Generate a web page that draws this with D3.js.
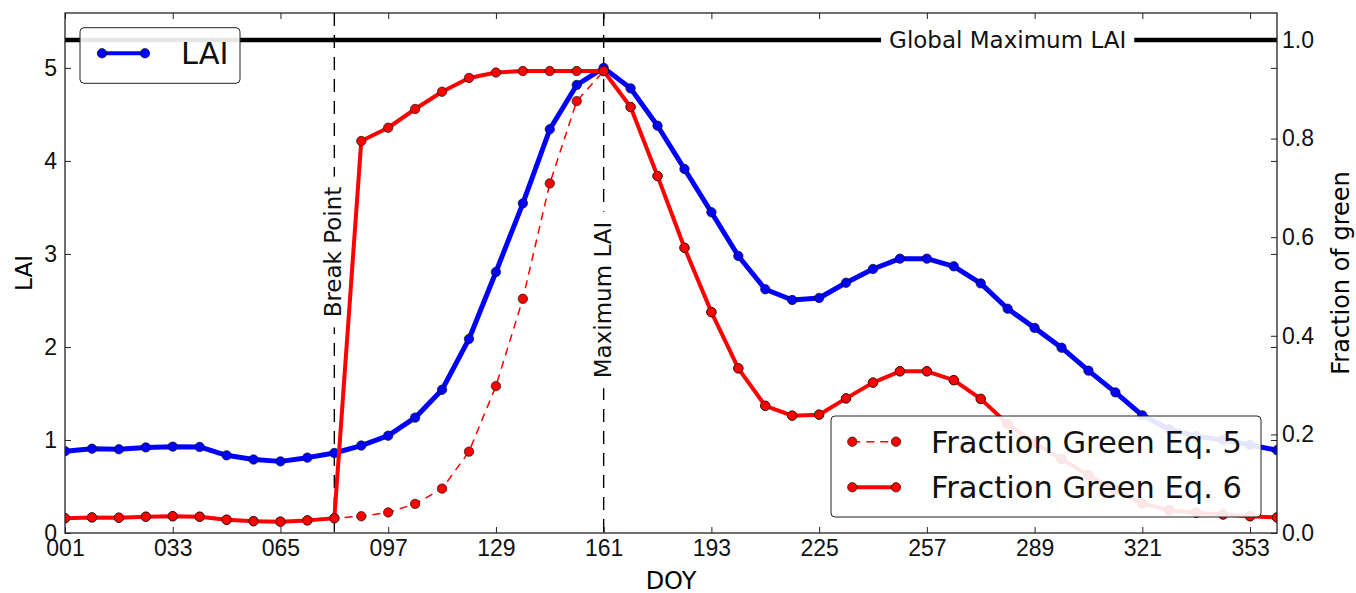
<!DOCTYPE html>
<html>
<head>
<meta charset="utf-8">
<script src="https://cdn.jsdelivr.net/npm/d3@7"></script>
<style>
  body { margin: 0; background: #fff; }
  svg { font-family: "DejaVu Sans", sans-serif; }
</style>
</head>
<body>
<div id="chart"></div>
<script>
// ============================================================================
// DATA (8-day composites)
// ============================================================================
const doy = [1, 9, 17, 25, 33, 41, 49, 57, 65, 73, 81, 89, 97, 105, 113, 121,
  129, 137, 145, 153, 161, 169, 177, 185, 193, 201, 209, 217, 225, 233, 241,
  249, 257, 265, 273, 281, 289, 297, 305, 313, 321, 329, 337, 345, 353, 361];

const lai = [0.88, 0.906, 0.90, 0.92, 0.928, 0.925, 0.835, 0.79, 0.77, 0.81,
  0.86, 0.94, 1.046, 1.24, 1.54, 2.086, 2.806, 3.544, 4.34, 4.816, 5.0, 4.78,
  4.378, 3.913, 3.448, 2.978, 2.62, 2.505, 2.526, 2.69, 2.838, 2.949, 2.949,
  2.867, 2.684, 2.411, 2.205, 1.992, 1.745, 1.512, 1.265, 1.115, 1.04, 1.0,
  0.946, 0.89];

const fracEq5 = [0.030, 0.0316, 0.031, 0.033, 0.034, 0.033, 0.027, 0.024,
  0.023, 0.0256, 0.030, 0.034, 0.0417, 0.059, 0.090, 0.165, 0.298, 0.475,
  0.709, 0.876, 0.937, 0.864, 0.724, 0.5785, 0.448, 0.334, 0.258, 0.238, 0.240,
  0.273, 0.305, 0.328, 0.328, 0.310, 0.272, 0.221, 0.183, 0.150, 0.117, 0.087,
  0.060, 0.046, 0.041, 0.0376, 0.034, 0.0316];

const fracEq6 = [0.030, 0.0316, 0.031, 0.033, 0.034, 0.033, 0.027, 0.024,
  0.023, 0.0256, 0.030, 0.795, 0.822, 0.860, 0.895, 0.923, 0.934, 0.937,
  0.937, 0.937, 0.937, 0.864, 0.724, 0.5785, 0.448, 0.334, 0.258, 0.238, 0.240,
  0.273, 0.305, 0.328, 0.328, 0.310, 0.272, 0.221, 0.183, 0.150, 0.117, 0.087,
  0.060, 0.046, 0.041, 0.0376, 0.034, 0.0316];

const xTicks = [1, 33, 65, 97, 129, 161, 193, 225, 257, 289, 321, 353];
const laiTicks = [0, 1, 2, 3, 4, 5];
const fracTicks = [0, 0.2, 0.4, 0.6, 0.8, 1.0];

const breakPointDoy = 81;
const maxLaiDoy = 161;
const globalMaxLai = 5.3;
const laiTop = 5.59;

// ============================================================================
// DIMENSIONS / SVG
// ============================================================================
const W = 1356, H = 593;
const margin = { top: 13, right: 79, bottom: 60, left: 65 };
const width = W - margin.left - margin.right;
const height = H - margin.top - margin.bottom;

const svg = d3.select('#chart').append('svg')
  .attr('width', W)
  .attr('height', H);

const g = svg.append('g')
  .attr('transform', `translate(${margin.left},${margin.top})`);

g.append('clipPath').attr('id', 'plot-clip')
  .append('rect').attr('width', width).attr('height', height);

// ============================================================================
// SCALES
// ============================================================================
const x = d3.scaleLinear().domain([1, 361]).range([0, width]);
const yL = d3.scaleLinear().domain([0, laiTop]).range([height, 0]);
// right axis: fraction, 1.0 sits on the global maximum LAI
const yR = d3.scaleLinear().domain([0, laiTop / globalMaxLai]).range([height, 0]);

const tickFont = '23px';

// ============================================================================
// AXES (ticks point inward, like the classic matplotlib style)
// ============================================================================
const styleAxis = sel => {
  sel.select('.domain').remove();
  sel.selectAll('line').attr('stroke', '#222').attr('stroke-width', 1);
  sel.selectAll('text').attr('fill', '#111').style('font-size', tickFont);
};

g.append('g')
  .attr('transform', `translate(0,${height})`)
  .call(d3.axisBottom(x).tickValues(xTicks).tickFormat(d3.format('03d'))
    .tickSizeInner(-6).tickSizeOuter(0).tickPadding(7))
  .call(styleAxis);

g.append('g')
  .call(d3.axisTop(x).tickValues(xTicks).tickFormat('')
    .tickSizeInner(-6).tickSizeOuter(0))
  .call(styleAxis);

g.append('g')
  .call(d3.axisLeft(yL).tickValues(laiTicks).tickFormat(d3.format('d'))
    .tickSizeInner(-6).tickSizeOuter(0).tickPadding(8))
  .call(styleAxis);

g.append('g')
  .attr('transform', `translate(${width},0)`)
  .call(d3.axisRight(yL).tickValues(laiTicks).tickFormat('')
    .tickSizeInner(-6).tickSizeOuter(0))
  .call(styleAxis);

g.append('g')
  .attr('transform', `translate(${width},0)`)
  .call(d3.axisRight(yR).tickValues(fracTicks).tickFormat(d3.format('.1f'))
    .tickSizeInner(-6).tickSizeOuter(0).tickPadding(5))
  .call(styleAxis);

// axis labels
g.append('text')
  .attr('x', width / 2).attr('y', height + 56)
  .attr('text-anchor', 'middle').style('font-size', '24px')
  .text('DOY');

g.append('text')
  .attr('transform', `translate(${24 - margin.left},${height / 2}) rotate(-90)`)
  .attr('text-anchor', 'middle').attr('dy', '0.36em').style('font-size', '23px')
  .text('LAI');

g.append('text')
  .attr('transform', `translate(${1340 - margin.left},${height / 2}) rotate(-90)`)
  .attr('text-anchor', 'middle').attr('dy', '0.36em').style('font-size', '24px')
  .text('Fraction of green');

// ============================================================================
// REFERENCE LINES + ANNOTATIONS
// ============================================================================
// text with a white box behind it (hides the line it sits on)
function boxedText(cx, cy, angle, label, pad) {
  const grp = g.append('g').attr('transform', `translate(${cx},${cy}) rotate(${angle})`);
  const rect = grp.append('rect').attr('fill', '#fff');
  const t = grp.append('text')
    .attr('text-anchor', 'middle').attr('dy', '0.36em')
    .style('font-size', '23px').attr('fill', '#111')
    .text(label);
  const bb = t.node().getBBox();
  rect.attr('x', bb.x - pad).attr('y', bb.y - pad / 2)
    .attr('width', bb.width + 2 * pad).attr('height', bb.height + pad);
}

g.append('line')
  .attr('x1', 0).attr('x2', width)
  .attr('y1', yL(globalMaxLai)).attr('y2', yL(globalMaxLai))
  .attr('stroke', '#000').attr('stroke-width', 4.5);
boxedText(x(281), yL(globalMaxLai), 0, 'Global Maximum LAI', 8);

[breakPointDoy, maxLaiDoy].forEach(d => {
  g.append('line')
    .attr('x1', x(d)).attr('x2', x(d))
    .attr('y1', 0).attr('y2', height)
    .attr('stroke', '#000').attr('stroke-width', 1.4)
    .attr('stroke-dasharray', '13,9');
});
boxedText(x(breakPointDoy) - 2, 252 - margin.top, -90, 'Break Point', 10);
boxedText(x(maxLaiDoy) - 1, 300 - margin.top, -90, 'Maximum LAI', 10);

// ============================================================================
// SERIES
// ============================================================================
const plot = g.append('g').attr('clip-path', 'url(#plot-clip)');

function drawSeries(values, yScale, color, lw, dash) {
  const pts = doy.map((d, i) => ({ d, v: values[i] }));
  const line = d3.line().x(p => x(p.d)).y(p => yScale(p.v));
  plot.append('path')
    .datum(pts)
    .attr('fill', 'none')
    .attr('stroke', color)
    .attr('stroke-width', lw)
    .attr('stroke-linejoin', 'round')
    .attr('stroke-dasharray', dash)
    .attr('d', line);
  plot.selectAll(null)
    .data(pts)
    .join('circle')
    .attr('cx', p => x(p.d))
    .attr('cy', p => yScale(p.v))
    .attr('r', 4.7)
    .attr('fill', color)
    .attr('stroke', '#111')
    .attr('stroke-width', 0.7);
}

drawSeries(lai, yL, '#0000ff', 5, null);

// ============================================================================
// LEGENDS
// ============================================================================
function legendRow(grp, x0, x1, yRow, color, lw, dash, label, tx) {
  grp.append('line')
    .attr('x1', x0).attr('x2', x1).attr('y1', yRow).attr('y2', yRow)
    .attr('stroke', color).attr('stroke-width', lw)
    .attr('stroke-dasharray', dash);
  [x0, x1].forEach(cx => grp.append('circle')
    .attr('cx', cx).attr('cy', yRow).attr('r', 4.7)
    .attr('fill', color).attr('stroke', '#111').attr('stroke-width', 0.7));
  grp.append('text')
    .attr('x', tx).attr('y', yRow).attr('dy', '0.36em')
    .style('font-size', '30.5px').attr('fill', '#111')
    .text(label);
}

const legend1 = svg.append('g');
legend1.append('rect')
  .attr('x', 80).attr('y', 27.7).attr('width', 160).attr('height', 55.6)
  .attr('rx', 4).attr('fill', '#fff').attr('fill-opacity', 0.9)
  .attr('stroke', '#222').attr('stroke-width', 1);
legendRow(legend1, 102, 145, 53.3, '#0000ff', 4, null, 'LAI', 181);

// fraction green series sit on the twin axis, above the LAI layer
drawSeries(fracEq5, yR, '#ff0000', 1.5, '8,6');
drawSeries(fracEq6, yR, '#ff0000', 4, null);

const legend2 = svg.append('g');
legend2.append('rect')
  .attr('x', 831).attr('y', 416).attr('width', 430).attr('height', 101)
  .attr('rx', 4).attr('fill', '#fff').attr('fill-opacity', 0.9)
  .attr('stroke', '#222').attr('stroke-width', 1);
legendRow(legend2, 852.3, 896, 441.7, '#ff0000', 1.5, '8,6', 'Fraction Green Eq. 5', 931);
legendRow(legend2, 852.3, 896, 487.3, '#ff0000', 4, null, 'Fraction Green Eq. 6', 931);

// ============================================================================
// FRAME
// ============================================================================
g.append('rect')
  .attr('width', width).attr('height', height)
  .attr('fill', 'none').attr('stroke', '#222').attr('stroke-width', 1.3);
</script>
</body>
</html>
